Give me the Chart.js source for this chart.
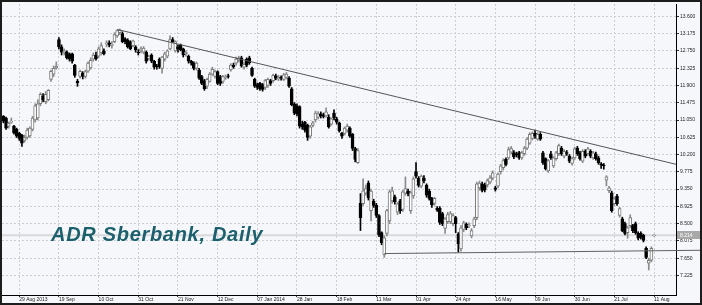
<!DOCTYPE html>
<html>
<head>
<meta charset="utf-8">
<script src="https://cdn.jsdelivr.net/npm/chart.js@4.4.1/dist/chart.umd.min.js"></script>
<style>
  html, body { margin: 0; padding: 0; background: #f6f7fb; }
  #wrap { position: relative; width: 702px; height: 305px; background: #f6f7fb; }
  #chartSber { display: block; }
  #title {
    position: absolute; left: 51px; top: 224px;
    font: italic bold 20px "Liberation Sans", Arial, sans-serif;
    letter-spacing: 0.7px; line-height: 20px; color: #1b606c; white-space: nowrap;
  }
</style>
</head>
<body>
<div id="wrap">
  <canvas id="chartSber" width="702" height="305"></canvas>
  <div id="title">ADR Sberbank, Daily</div>
</div>
<script>
// date labels on the time axis, one every 15 sessions starting at candle 6
const dateLabels = ["29 Aug 2013", "19 Sep", "10 Oct", "31 Oct", "21 Nov", "12 Dec", "07 Jan 2014", "28 Jan",
  "18 Feb", "11 Mar", "01 Apr", "24 Apr", "16 May", "09 Jun", "30 Jun", "21 Jul", "11 Aug"];
const firstLabelIdx = 6;
const labelStep = 15;

const priceTicks = [7.225, 7.650, 8.075, 8.500, 8.925, 9.350, 9.775, 10.200, 10.625, 11.050,
  11.475, 11.900, 12.325, 12.750, 13.175, 13.600];

// daily OHLC
const opens = [
  11.14, 11.10, 10.90, 11.00, 10.90, 10.82, 10.72, 10.68, 10.55, 10.62,
  10.66, 10.82, 11.05, 11.10, 11.45, 11.64, 11.50, 11.55, 12.05, 12.18,
  12.33, 13.03, 12.85, 12.70, 12.72, 12.68, 12.68, 12.40, 12.00, 12.12,
  12.20, 12.12, 12.25, 12.33, 12.55, 12.65, 12.62, 12.70, 12.75, 12.92,
  12.95, 12.88, 12.98, 13.12, 13.20, 13.18, 13.05, 13.02, 12.98, 12.88,
  12.85, 12.72, 12.75, 12.72, 12.72, 12.58, 12.65, 12.50, 12.38, 12.55,
  12.32, 12.55, 12.62, 12.80, 13.03, 12.75, 12.85, 12.90, 12.80, 12.68,
  12.62, 12.50, 12.45, 12.32, 12.28, 12.12, 12.02, 11.88, 12.00, 12.18,
  12.12, 12.24, 12.12, 12.00, 12.10, 12.14, 12.28, 12.40, 12.45, 12.52,
  12.58, 12.35, 12.55, 12.58, 12.32, 12.05, 11.92, 11.95, 11.92, 11.85,
  11.90, 12.02, 12.02, 12.14, 12.06, 12.10, 12.05, 12.10, 12.08, 11.82,
  11.45, 11.40, 11.38, 10.95, 11.00, 10.92, 10.65, 10.92, 11.05, 11.12,
  11.20, 11.18, 11.15, 11.12, 10.95, 11.22, 11.08, 10.98, 10.72, 10.72,
  10.80, 10.85, 10.70, 10.35, 10.00, 9.00, 8.99, 9.25, 9.50, 8.82,
  9.05, 8.95, 8.70, 8.28, 7.73, 8.26, 8.57, 9.06, 9.16, 8.78,
  9.06, 8.85, 9.25, 9.30, 8.82, 9.18, 9.78, 9.62, 9.42, 9.62,
  9.45, 9.30, 9.12, 9.00, 8.88, 8.88, 8.75, 8.38, 8.55, 8.55,
  8.50, 8.65, 8.25, 7.88, 8.36, 8.48, 8.45, 8.20, 8.45, 8.65,
  9.38, 9.48, 9.45, 9.45, 9.52, 9.62, 9.38, 9.42, 9.78, 9.88,
  10.08, 10.12, 10.26, 10.25, 10.22, 10.25, 10.12, 10.22, 10.36, 10.48,
  10.60, 10.72, 10.58, 10.70, 10.24, 10.10, 9.80, 10.22, 9.92, 10.10,
  10.22, 10.36, 10.16, 10.25, 10.16, 9.98, 10.12, 10.36, 10.24, 10.04,
  10.28, 10.22, 10.28, 10.12, 10.22, 10.12, 9.97, 9.94, 9.57, 9.31,
  9.26, 8.99, 9.18, 8.70, 8.62, 8.50, 8.28, 8.45, 8.45, 8.50,
  8.26, 8.26, 8.21, 7.89, 7.53, 7.60, 8.20
];
const highs = [
  11.16, 11.12, 11.00, 11.10, 10.92, 10.85, 10.75, 10.70, 10.68, 10.85,
  10.88, 11.14, 11.45, 11.55, 11.72, 11.70, 11.75, 11.80, 12.28, 12.38,
  12.48, 13.08, 12.90, 12.80, 12.75, 12.70, 12.70, 12.42, 12.05, 12.28,
  12.24, 12.28, 12.48, 12.58, 12.70, 12.72, 12.85, 12.95, 12.80, 13.00,
  13.00, 12.98, 13.20, 13.27, 13.29, 13.22, 13.08, 13.05, 13.00, 13.02,
  12.88, 12.78, 12.85, 12.86, 12.75, 12.65, 12.68, 12.52, 12.42, 12.58,
  12.62, 12.72, 12.78, 13.12, 13.08, 13.00, 12.90, 12.92, 12.82, 12.75,
  12.65, 12.52, 12.48, 12.48, 12.32, 12.15, 12.05, 12.08, 12.22, 12.35,
  12.28, 12.26, 12.15, 12.15, 12.16, 12.18, 12.44, 12.45, 12.60, 12.62,
  12.62, 12.48, 12.58, 12.62, 12.35, 12.08, 11.96, 11.98, 11.95, 12.05,
  12.08, 12.05, 12.18, 12.18, 12.15, 12.14, 12.20, 12.22, 12.12, 11.85,
  11.48, 11.45, 11.40, 11.02, 11.02, 10.95, 10.92, 11.02, 11.27, 11.26,
  11.25, 11.22, 11.35, 11.18, 11.10, 11.30, 11.12, 11.00, 10.75, 10.88,
  10.95, 10.88, 10.72, 10.38, 10.35, 9.24, 9.60, 9.45, 9.55, 9.35,
  9.10, 9.00, 8.72, 8.30, 8.20, 8.85, 9.33, 9.40, 9.20, 9.02,
  9.10, 9.32, 9.65, 9.35, 9.30, 9.65, 10.00, 9.66, 9.70, 9.68,
  9.48, 9.35, 9.15, 9.15, 8.92, 8.92, 8.78, 8.65, 8.78, 8.80,
  8.75, 8.68, 8.28, 8.45, 8.56, 8.52, 8.52, 8.38, 8.66, 9.52,
  9.55, 9.52, 9.50, 9.60, 9.68, 9.80, 9.42, 9.75, 9.96, 10.10,
  10.12, 10.38, 10.40, 10.30, 10.26, 10.28, 10.28, 10.40, 10.62, 10.74,
  10.76, 10.80, 10.74, 10.74, 10.28, 10.12, 10.08, 10.28, 10.15, 10.28,
  10.46, 10.40, 10.32, 10.30, 10.20, 10.14, 10.38, 10.40, 10.28, 10.32,
  10.32, 10.38, 10.32, 10.28, 10.26, 10.16, 10.00, 9.98, 9.68, 9.42,
  9.30, 9.15, 9.22, 8.90, 8.66, 8.54, 8.44, 8.72, 8.48, 8.54,
  8.30, 8.30, 8.24, 7.93, 7.65, 7.93, 8.23
];
const lows = [
  10.98, 10.82, 10.85, 10.97, 10.70, 10.62, 10.55, 10.40, 10.50, 10.58,
  10.62, 10.78, 11.00, 11.05, 11.40, 11.50, 11.45, 11.52, 12.00, 12.12,
  12.30, 12.80, 12.65, 12.65, 12.55, 12.50, 12.45, 12.10, 11.88, 12.08,
  12.06, 12.08, 12.22, 12.30, 12.50, 12.52, 12.58, 12.65, 12.65, 12.85,
  12.85, 12.82, 12.95, 13.08, 13.15, 12.95, 12.92, 12.82, 12.78, 12.85,
  12.72, 12.65, 12.70, 12.68, 12.45, 12.52, 12.46, 12.30, 12.30, 12.32,
  12.20, 12.50, 12.58, 12.78, 12.95, 12.72, 12.72, 12.75, 12.60, 12.62,
  12.45, 12.40, 12.28, 12.28, 12.05, 11.92, 11.78, 11.82, 11.98, 12.15,
  12.08, 11.92, 11.90, 11.95, 12.05, 12.08, 12.25, 12.32, 12.40, 12.48,
  12.35, 12.30, 12.36, 12.42, 12.12, 11.85, 11.80, 11.78, 11.76, 11.80,
  11.85, 11.90, 11.98, 12.04, 12.02, 12.03, 12.02, 12.06, 11.85, 11.40,
  11.18, 11.15, 10.85, 10.82, 10.75, 10.55, 10.60, 10.88, 11.00, 11.08,
  11.10, 11.10, 11.12, 10.85, 10.92, 11.05, 10.95, 10.75, 10.60, 10.68,
  10.75, 10.62, 10.30, 10.02, 9.98, 8.33, 8.95, 9.20, 9.08, 8.57,
  8.90, 8.65, 8.18, 7.98, 7.67, 8.20, 8.50, 9.00, 8.98, 8.72,
  8.75, 8.80, 9.20, 9.18, 8.75, 9.12, 9.62, 9.40, 9.38, 9.50,
  9.15, 9.08, 8.90, 8.95, 8.80, 8.48, 8.45, 8.26, 8.50, 8.50,
  8.45, 8.28, 7.80, 7.82, 8.30, 8.35, 8.40, 8.15, 8.40, 8.60,
  9.32, 9.28, 9.28, 9.40, 9.48, 9.58, 9.30, 9.38, 9.72, 9.82,
  9.92, 10.08, 10.22, 10.10, 10.14, 10.08, 10.08, 10.18, 10.32, 10.45,
  10.56, 10.60, 10.55, 10.55, 9.96, 9.82, 9.76, 10.08, 9.88, 10.06,
  10.18, 10.18, 10.12, 10.18, 10.00, 9.94, 10.08, 10.18, 10.06, 10.00,
  10.12, 10.18, 10.12, 10.08, 10.06, 9.96, 9.86, 9.84, 9.43, 9.26,
  8.78, 8.95, 8.95, 8.66, 8.30, 8.22, 8.14, 8.40, 8.28, 8.24,
  8.10, 8.12, 8.05, 7.64, 7.36, 7.56, 8.19
];
const closes = [
  11.02, 10.85, 10.97, 11.02, 10.73, 10.65, 10.60, 10.48, 10.62, 10.80,
  10.85, 11.10, 11.40, 11.45, 11.68, 11.55, 11.68, 11.78, 12.25, 12.32,
  12.38, 12.85, 12.72, 12.75, 12.58, 12.55, 12.50, 12.15, 11.96, 12.25,
  12.12, 12.24, 12.45, 12.52, 12.65, 12.56, 12.80, 12.88, 12.68, 12.95,
  12.90, 12.92, 13.15, 13.25, 13.26, 12.98, 12.98, 12.85, 12.80, 13.00,
  12.78, 12.70, 12.80, 12.82, 12.50, 12.60, 12.50, 12.35, 12.36, 12.36,
  12.60, 12.68, 12.75, 13.03, 12.98, 12.98, 12.80, 12.78, 12.65, 12.72,
  12.50, 12.45, 12.32, 12.45, 12.08, 11.95, 11.82, 12.05, 12.18, 12.30,
  12.24, 11.95, 11.95, 12.12, 12.12, 12.12, 12.40, 12.36, 12.55, 12.58,
  12.38, 12.42, 12.40, 12.46, 12.15, 11.88, 11.85, 11.82, 11.80, 12.02,
  12.05, 11.95, 12.15, 12.08, 12.10, 12.08, 12.16, 12.18, 11.88, 11.43,
  11.22, 11.20, 10.90, 10.88, 10.80, 10.62, 10.88, 10.98, 11.22, 11.20,
  11.15, 11.14, 11.25, 10.88, 11.08, 11.10, 11.00, 10.78, 10.65, 10.85,
  10.90, 10.65, 10.35, 10.08, 10.30, 8.65, 9.31, 9.36, 9.13, 9.30,
  8.95, 8.70, 8.22, 8.03, 8.15, 8.82, 9.28, 9.31, 9.04, 8.99,
  8.82, 9.28, 9.36, 9.24, 9.26, 9.60, 9.67, 9.44, 9.67, 9.55,
  9.20, 9.12, 8.96, 9.12, 8.83, 8.53, 8.50, 8.62, 8.72, 8.75,
  8.70, 8.50, 8.00, 8.40, 8.52, 8.40, 8.47, 8.33, 8.62, 9.48,
  9.50, 9.32, 9.33, 9.56, 9.63, 9.75, 9.34, 9.72, 9.92, 10.05,
  9.96, 10.32, 10.35, 10.14, 10.20, 10.12, 10.24, 10.36, 10.58, 10.70,
  10.72, 10.65, 10.70, 10.58, 10.00, 9.85, 10.05, 10.12, 10.12, 10.24,
  10.42, 10.22, 10.28, 10.23, 10.04, 10.10, 10.34, 10.22, 10.10, 10.28,
  10.16, 10.34, 10.16, 10.24, 10.10, 10.00, 9.94, 9.92, 9.65, 9.38,
  8.82, 9.11, 8.99, 8.87, 8.33, 8.26, 8.40, 8.65, 8.33, 8.28,
  8.14, 8.16, 8.09, 7.67, 7.60, 7.89, 8.214
];

const lastPrice = 8.214;
// hand drawn lines: [candle index, price]
const trendLine = [[43, 13.28], [254.3, 9.96]];
const supportLine = [[144, 7.764], [264, 7.845]];

const labelAt = {};
dateLabels.forEach((t, k) => { labelAt[firstLabelIdx + k * labelStep] = t; });

const isUp = i => closes[i] >= opens[i];
const idx = opens.map((v, i) => i);

const frame = {
  id: "frame",
  afterDraw(chart) {
    const ctx = chart.ctx;
    const a = chart.chartArea;
    const y = chart.scales.y.getPixelForValue(lastPrice);
    ctx.save();
    ctx.fillStyle = "#a8a8a8";
    ctx.fillRect(a.right + 1, Math.round(y) - 4, chart.width - a.right - 3, 8);
    ctx.fillStyle = "#ffffff";
    ctx.font = '5px "Liberation Sans", Arial';
    ctx.textBaseline = "middle";
    ctx.fillText(lastPrice.toFixed(3), a.right + 4, y + 0.5);
    ctx.strokeStyle = "#1c1c1c";
    ctx.lineWidth = 2;
    ctx.strokeRect(1, 1, chart.width - 2, chart.height - 2);
    ctx.restore();
  }
};

const tickFont = { family: '"Liberation Sans", Arial, sans-serif', size: 5 };

const chart = new Chart("chartSber", {
  type: "bar",
  data: {
    datasets: [
      {
        type: "line",
        data: trendLine.map(p => ({ x: p[0], y: p[1] })),
        borderColor: "#555555",
        borderWidth: 1,
        pointRadius: 0,
      },
      {
        type: "line",
        data: supportLine.map(p => ({ x: p[0], y: p[1] })),
        borderColor: "#606060",
        borderWidth: 1,
        pointRadius: 0,
        clip: false,
      },
      {
        // candle bodies
        data: idx.map(i => ({ x: i, y: [opens[i], closes[i]] })),
        backgroundColor: c => isUp(c.dataIndex) ? "#ffffff" : "#000000",
        borderColor: c => isUp(c.dataIndex) ? "#7a7a7a" : "#000000",
        borderWidth: 1,
        borderSkipped: false,
        barThickness: 3,
        grouped: false,
      },
      {
        // wicks
        data: idx.map(i => ({ x: i, y: [lows[i], highs[i]] })),
        backgroundColor: c => isUp(c.dataIndex) ? "#8a8a8a" : "#000000",
        borderWidth: 0,
        barThickness: 1,
        grouped: false,
      },
      {
        type: "line",
        data: [{ x: -0.53, y: lastPrice }, { x: 254.3, y: lastPrice }],
        borderColor: "#d9d9dc",
        borderWidth: 2,
        pointRadius: 0,
      },
    ],
  },
  options: {
    responsive: false,
    devicePixelRatio: 1,
    animation: false,
    events: [],
    layout: { padding: { left: 2, top: 2, right: 0, bottom: 0 } },
    plugins: { legend: { display: false }, tooltip: { enabled: false } },
    scales: {
      x: {
        type: "linear",
        min: -0.53,
        max: 254.3,
        offset: false,
        grid: { offset: false, color: "#cdced4", tickColor: "#333333", tickLength: 2, tickBorderDash: [] },
        border: { color: "#000000", width: 1, dash: [2, 2] },
        afterBuildTicks: s => { s.ticks = Object.keys(labelAt).map(v => ({ value: +v })); },
        afterFit: s => { s.height = 10; },
        ticks: {
          autoSkip: false,
          maxRotation: 0,
          align: "start",
          padding: 0,
          color: "#222222",
          font: tickFont,
          callback: v => labelAt[v] || "",
        },
      },
      y: {
        position: "right",
        min: 6.744,
        max: 13.905,
        grid: { color: "#cdced4", tickColor: "#333333", tickLength: 3, tickBorderDash: [] },
        border: { color: "#000000", width: 1, dash: [2, 2] },
        afterBuildTicks: s => { s.ticks = priceTicks.map(v => ({ value: v })); },
        afterFit: s => { s.width = 26; },
        ticks: {
          padding: 1,
          color: "#222222",
          font: tickFont,
          callback: v => v.toFixed(3),
        },
      },
    },
  },
  plugins: [frame],
});
</script>
</body>
</html>
